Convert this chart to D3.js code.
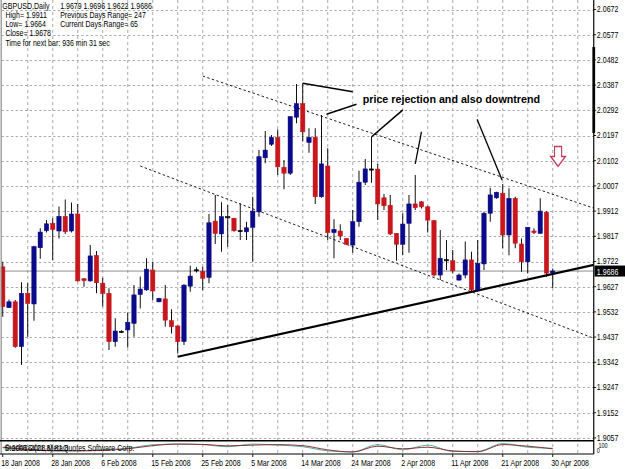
<!DOCTYPE html>
<html>
<head>
<meta charset="utf-8">
<script src="https://cdn.jsdelivr.net/npm/d3@7"></script>
<style>
html, body { margin: 0; padding: 0; background: #fff; overflow: hidden; }
svg { display: block; }
text { font-family: "Liberation Sans", Arial, sans-serif; }
</style>
</head>
<body>
<svg id="chart"></svg>
<script>
// GBPUSD daily, 18 Jan 2008 .. 30 Apr 2008 (MT4 with sunday bars)
const dateLabels = ['18 Jan 2008', '28 Jan 2008', '6 Feb 2008', '15 Feb 2008', '25 Feb 2008', '5 Mar 2008',
    '14 Mar 2008', '24 Mar 2008', '2 Apr 2008', '11 Apr 2008', '21 Apr 2008', '30 Apr 2008'];
const priceTicks = [2.0672, 2.0577, 2.0482, 2.0387, 2.0292, 2.0197, 2.0102, 2.0007, 1.9912,
    1.9817, 1.9722, 1.9627, 1.9532, 1.9437, 1.9342, 1.9247, 1.9152, 1.9057];

const opens = [1.9702, 1.9548, 1.9570, 1.9401, 1.9602, 1.9562, 1.9774, 1.9838, 1.9866, 1.9837,
    1.9892, 1.9837, 1.9901, 1.9657, 1.9649, 1.9745, 1.9640, 1.9602, 1.9420, 1.9458,
    1.9464, 1.9489, 1.9598, 1.9615, 1.9690, 1.9570, 1.9581, 1.9499, 1.9479, 1.9420,
    1.9629, 1.9690, 1.9684, 1.9662, 1.9874, 1.9826, 1.9890, 1.9885, 1.9838, 1.9834,
    1.9851, 1.9909, 2.0113, 2.0164, 2.0189, 2.0077, 2.0055, 2.0266, 2.0317, 2.0171,
    2.0190, 1.9966, 2.0082, 1.9831, 1.9837, 1.9809, 1.9784, 1.9872, 2.0021, 2.0070,
    2.0070, 1.9962, 1.9934, 1.9828, 1.9787, 1.9866, 1.9939, 1.9947, 1.9928, 1.9876,
    1.9671, 1.9728, 1.9725, 1.9652, 1.9671, 1.9728, 1.9615, 1.9713, 1.9904, 1.9962,
    1.9979, 1.9822, 1.9960, 1.9788, 1.9721, 1.9837, 1.9828, 1.9908, 1.9679];
const highs = [1.9721, 1.9579, 1.9577, 1.9644, 1.9640, 1.9781, 1.9847, 1.9878, 1.9885, 1.9929,
    1.9956, 1.9944, 1.9939, 1.9660, 1.9784, 1.9762, 1.9661, 1.9621, 1.9508, 1.9463,
    1.9529, 1.9633, 1.9665, 1.9734, 1.9721, 1.9585, 1.9633, 1.9542, 1.9481, 1.9636,
    1.9706, 1.9700, 1.9702, 1.9901, 1.9973, 1.9945, 1.9935, 1.9886, 1.9941, 1.9872,
    1.9966, 2.0142, 2.0214, 2.0199, 2.0220, 2.0105, 2.0270, 2.0391, 2.0394, 2.0224,
    2.0224, 2.0274, 2.0149, 1.9881, 1.9862, 1.9811, 1.9916, 2.0064, 2.0108, 2.0192,
    2.0090, 1.9976, 1.9973, 1.9829, 1.9904, 1.9973, 2.0048, 1.9950, 1.9932, 1.9878,
    1.9841, 1.9803, 1.9765, 1.9677, 1.9797, 1.9759, 1.9803, 1.9910, 2.0000, 1.9985,
    2.0014, 1.9998, 1.9966, 1.9809, 1.9851, 1.9847, 1.9960, 1.9911, 1.9696];
const lows = [1.9514, 1.9547, 1.9397, 1.9332, 1.9438, 1.9499, 1.9732, 1.9831, 1.9728, 1.9809,
    1.9826, 1.9831, 1.9646, 1.9627, 1.9646, 1.9602, 1.9552, 1.9388, 1.9401, 1.9453,
    1.9398, 1.9438, 1.9545, 1.9612, 1.9577, 1.9568, 1.9476, 1.9451, 1.9375, 1.9407,
    1.9608, 1.9681, 1.9614, 1.9640, 1.9788, 1.9759, 1.9778, 1.9834, 1.9803, 1.9803,
    1.9721, 1.9891, 2.0092, 2.0157, 2.0048, 1.9994, 2.0048, 2.0243, 2.0174, 2.0132,
    1.9939, 1.9962, 1.9803, 1.9734, 1.9803, 1.9784, 1.9755, 1.9853, 2.0010, 2.0019,
    1.9878, 1.9916, 1.9822, 1.9725, 1.9746, 1.9755, 1.9916, 1.9922, 1.9831, 1.9665,
    1.9652, 1.9690, 1.9677, 1.9650, 1.9659, 1.9608, 1.9608, 1.9690, 1.9872, 1.9959,
    1.9772, 1.9746, 1.9772, 1.9683, 1.9677, 1.9826, 1.9828, 1.9664, 1.9622];
const closes = [1.9552, 1.9570, 1.9401, 1.9602, 1.9564, 1.9778, 1.9833, 1.9864, 1.9843, 1.9892,
    1.9834, 1.9901, 1.9649, 1.9650, 1.9743, 1.9642, 1.9602, 1.9420, 1.9460, 1.9459,
    1.9493, 1.9596, 1.9618, 1.9693, 1.9611, 1.9583, 1.9501, 1.9476, 1.9420, 1.9633,
    1.9667, 1.9691, 1.9659, 1.9868, 1.9828, 1.9891, 1.9891, 1.9838, 1.9839, 1.9849,
    1.9912, 2.0117, 2.0142, 2.0190, 2.0079, 2.0055, 2.0268, 2.0317, 2.0211, 2.0190,
    1.9966, 2.0090, 1.9831, 1.9843, 1.9818, 1.9787, 1.9872, 2.0021, 2.0071, 2.0071,
    1.9939, 1.9932, 1.9826, 1.9787, 1.9863, 1.9939, 1.9925, 1.9928, 1.9878, 1.9671,
    1.9734, 1.9729, 1.9687, 1.9671, 1.9728, 1.9615, 1.9715, 1.9904, 1.9973, 1.9983,
    1.9822, 1.9960, 1.9791, 1.9721, 1.9851, 1.9831, 1.9912, 1.9678, 1.9686];

// oscillator in the sub window, read every 4 bars (0..100)
const oscBars = [0, 4, 8, 12, 16, 20, 24, 28, 32, 36, 40, 44, 48, 52, 56, 60, 64, 68, 72, 76, 80, 84, 88];
const oscMain = [50, 30, 20, 22, 30, 45, 78, 85, 80, 60, 85, 75, 60, 20, 10, 80, 30, 75, 15, 15, 90, 55, 45];
const oscSignal = [55, 35, 22, 20, 25, 40, 70, 85, 82, 68, 75, 80, 70, 30, 10, 65, 40, 55, 20, 12, 80, 65, 40];

// user drawn lines, [bar, price]
const trendLine = [[28, 1.9363], [88, 1.9675]];
const channelLines = [
    [[32, 2.0421], [80, 2.0039]],
    [[22, 2.0082], [80, 1.9563]],
];
const pointerLines = [
    [[48, 2.0394], [56, 2.0362]],
    [[51.8, 2.0277], [56.6, 2.0315]],
    [[59, 2.0192], [64, 2.0293]],
    [[66, 2.0090], [67, 2.0211]],
    [[75.9, 2.0258], [79.9, 2.0029]],
];
const noteText = 'price rejection and also downtrend';
const notePos = [57.6, 2.0333];
const arrowPos = [88.85, 2.0156];
const lastPrice = 1.9686;

// the screenshot is squeezed horizontally, so draw on an 800 wide canvas
const [W, H] = [800, 469];
const svg = d3.select('#chart')
    .attr('width', 625).attr('height', 469)
    .attr('viewBox', `0 0 ${W} ${H}`)
    .attr('preserveAspectRatio', 'none');

const axisX = 760;
const mainBottom = 440.7;
const subTop = 442, subBottom = 454;

const x = d3.scaleLinear().domain([0, 88]).range([3.5, 707.5]);
const y = d3.scaleLinear().domain([1.9057, 2.0672]).range([437.9, 9.5]);
const yOsc = d3.scaleLinear().domain([0, 100]).range([subBottom - 1, subTop + 0.5]);

svg.append('rect').attr('width', W).attr('height', H).attr('fill', '#fff');

svg.append('clipPath').attr('id', 'plot')
    .append('rect').attr('x', 1).attr('y', 0).attr('width', axisX - 1).attr('height', mainBottom);

const grid = svg.append('g')
    .attr('stroke', '#a0a0a0').attr('stroke-width', 1).attr('stroke-dasharray', '3,3');

grid.selectAll('.hg').data(priceTicks).enter().append('line')
    .attr('x1', 2).attr('x2', axisX)
    .attr('y1', d => Math.round(y(d)) + 0.5).attr('y2', d => Math.round(y(d)) + 0.5);

const vBars = d3.range(4, 93, 4);
grid.selectAll('.vg').data(vBars).enter().append('line')
    .attr('x1', d => x(d)).attr('x2', d => x(d))
    .attr('y1', 0).attr('y2', subBottom);

// current price line
svg.append('line')
    .attr('x1', 1).attr('x2', axisX)
    .attr('y1', y(lastPrice)).attr('y2', y(lastPrice))
    .attr('stroke', '#808080').attr('stroke-width', 1);

const plot = svg.append('g').attr('clip-path', 'url(#plot)');

// rays: extend a line through two points up to the price axis
function ray(p) {
    const [a, b] = p;
    const slope = (b[1] - a[1]) / (b[0] - a[0]);
    const endBar = x.invert(axisX);
    return [[x(a[0]), y(a[1])], [axisX, y(a[1] + slope * (endBar - a[0]))]];
}

channelLines.forEach(p => {
    plot.append('path')
        .attr('d', d3.line()(ray(p)))
        .attr('stroke', '#000').attr('stroke-width', 1)
        .attr('stroke-dasharray', '3,3').attr('fill', 'none');
});

plot.append('path')
    .attr('d', d3.line()(ray(trendLine)))
    .attr('stroke', '#000').attr('stroke-width', 2.2).attr('fill', 'none');

// candles
const bars = d3.range(opens.length).map(i => ({
    i, o: opens[i], h: highs[i], l: lows[i], c: closes[i],
}));

const candle = plot.selectAll('.candle').data(bars).enter().append('g');

candle.append('line')
    .attr('x1', d => x(d.i)).attr('x2', d => x(d.i))
    .attr('y1', d => y(d.h)).attr('y2', d => y(d.l))
    .attr('stroke', '#000').attr('stroke-width', 1.2);

const bodyColor = d => Math.abs(d.c - d.o) < 0.00025 ? '#000' : (d.c > d.o ? '#0a0a8a' : '#c8161d');
candle.append('rect')
    .attr('x', d => x(d.i) - 2.8)
    .attr('width', 5.6)
    .attr('y', d => y(Math.max(d.o, d.c)))
    .attr('height', d => Math.max(1.2, Math.abs(y(d.o) - y(d.c))))
    .attr('fill', bodyColor)
    .attr('stroke', bodyColor).attr('stroke-width', 0.6);

pointerLines.forEach(p => {
    plot.append('line')
        .attr('x1', x(p[0][0])).attr('y1', y(p[0][1]))
        .attr('x2', x(p[1][0])).attr('y2', y(p[1][1]))
        .attr('stroke', '#000').attr('stroke-width', 1.6);
});

plot.append('text')
    .attr('x', x(notePos[0])).attr('y', y(notePos[1]) + 4)
    .attr('font-family', '"DejaVu Sans", Verdana, sans-serif')
    .attr('font-weight', 'bold').attr('font-size', 10.5)
    .attr('textLength', 227).attr('lengthAdjust', 'spacingAndGlyphs')
    .text(noteText);

// red arrow down
const ax = x(arrowPos[0]), ay = y(arrowPos[1]);
plot.append('path')
    .attr('d', `M${ax - 4.5},${ay} L${ax + 4.5},${ay} L${ax + 4.5},${ay + 10} L${ax + 9.5},${ay + 10}
        L${ax},${ay + 20} L${ax - 9.5},${ay + 10} L${ax - 4.5},${ay + 10} Z`)
    .attr('fill', '#fff').attr('stroke', '#c0405e').attr('stroke-width', 1.5);

// sub window oscillator
const oscLine = (vals) => d3.line().curve(d3.curveMonotoneX)
    .x((d, k) => x(oscBars[k])).y(d => yOsc(d))(vals);
svg.append('path').attr('d', oscLine(oscMain))
    .attr('stroke', '#3aa6a0').attr('stroke-width', 1).attr('fill', 'none');
svg.append('path').attr('d', oscLine(oscSignal))
    .attr('stroke', '#8b1a1a').attr('stroke-width', 1).attr('fill', 'none');

// frames
const frame = svg.append('g').attr('stroke', '#000');
frame.append('line').attr('x1', 1.5).attr('x2', 1.5).attr('y1', 0).attr('y2', subBottom)
    .attr('stroke', '#8a8a8a').attr('stroke-width', 1.5);
frame.append('line').attr('x1', axisX).attr('x2', axisX).attr('y1', 0).attr('y2', subBottom)
    .attr('stroke-width', 1.5);
frame.append('line').attr('x1', 0).attr('x2', axisX).attr('y1', mainBottom).attr('y2', mainBottom)
    .attr('stroke-width', 1.5);
frame.append('line').attr('x1', 0).attr('x2', axisX).attr('y1', subBottom).attr('y2', subBottom)
    .attr('stroke-width', 1.2);
frame.append('line').attr('x1', axisX).attr('x2', axisX).attr('y1', 47).attr('y2', 133)
    .attr('stroke-width', 3.5);

// price axis labels
const labelFont = 9;
svg.append('g').selectAll('text').data(priceTicks).enter().append('text')
    .attr('x', axisX + 4)
    .attr('y', d => Math.max(9, y(d) + 3))
    .attr('font-size', labelFont).attr('fill', '#000')
    .text(d => d.toFixed(4));
svg.append('g').selectAll('line').data(priceTicks).enter().append('line')
    .attr('x1', axisX).attr('x2', axisX + 3)
    .attr('y1', d => y(d)).attr('y2', d => y(d))
    .attr('stroke', '#000');

svg.append('rect')
    .attr('x', axisX + 1).attr('y', y(lastPrice) - 5.5).attr('width', W - axisX - 1).attr('height', 11)
    .attr('fill', '#000');
svg.append('text')
    .attr('x', axisX + 4).attr('y', y(lastPrice) + 3.5)
    .attr('font-size', labelFont).attr('fill', '#fff')
    .text(lastPrice.toFixed(4));

svg.append('text').attr('x', axisX + 6).attr('y', 448).attr('font-size', 7).text('100');
svg.append('text').attr('x', axisX + 4).attr('y', 453).attr('font-size', 7).text('0');

// date labels
svg.append('g').selectAll('text').data(dateLabels).enter().append('text')
    .attr('x', (d, k) => x(k * 8) - 2)
    .attr('y', 466)
    .attr('font-size', labelFont)
    .text(d => d);
svg.append('g').selectAll('line').data(dateLabels).enter().append('line')
    .attr('x1', (d, k) => x(k * 8)).attr('x2', (d, k) => x(k * 8))
    .attr('y1', subBottom).attr('y2', subBottom + 3)
    .attr('stroke', '#000');

// header info
const info = svg.append('g').attr('font-size', labelFont).attr('fill', '#000');
info.append('text').attr('x', 3).attr('y', 9).text('GBPUSD,Daily');
info.append('text').attr('x', 77).attr('y', 9).text('1.9679 1.9696 1.9622 1.9686');
info.append('text').attr('x', 7).attr('y', 18).text('High= 1.9911');
info.append('text').attr('x', 77).attr('y', 18).text('Previous Days Range= 247');
info.append('text').attr('x', 7).attr('y', 27.5).text('Low= 1.9664');
info.append('text').attr('x', 77).attr('y', 27.5).text('Current Days Range= 65');
info.append('text').attr('x', 7).attr('y', 36.5).text('Close= 1.9678');
info.append('text').attr('x', 7).attr('y', 46).text('Time for next bar: 936 min 31 sec');

const sub = svg.append('g').attr('font-size', labelFont).attr('fill', '#000');
sub.append('text').attr('x', 6).attr('y', 451).text('StochRSI(21,8) 81.8');
sub.append('text').attr('x', 6).attr('y', 451).text('© 2001-2008 MetaQuotes Software Corp.');
</script>
</body>
</html>
